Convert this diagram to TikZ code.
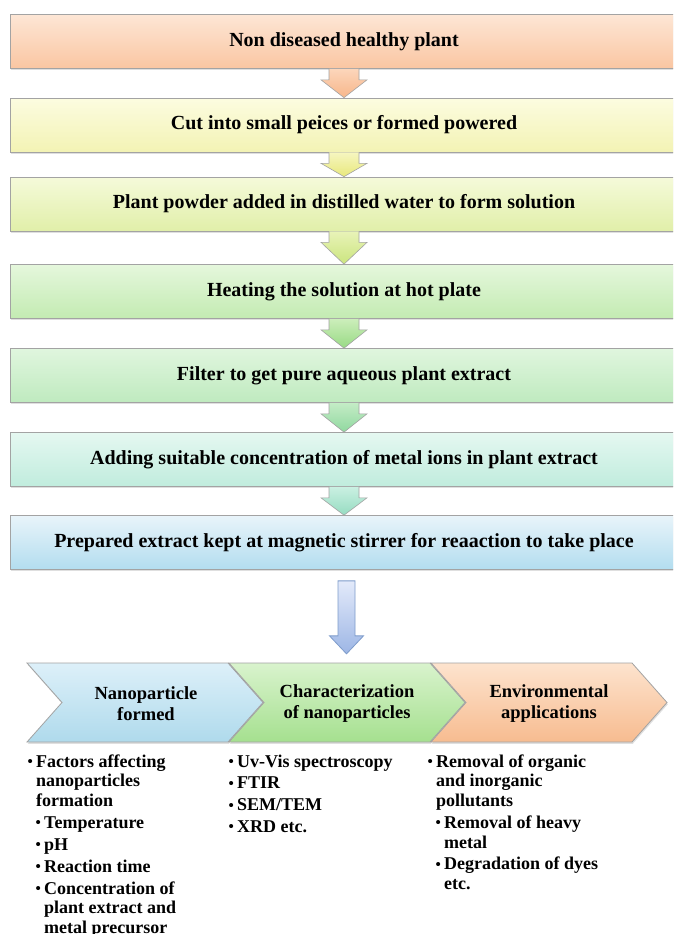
\documentclass[tikz,border=0pt]{standalone}
\usepackage{fontspec}
\setmainfont{Liberation Serif}
\usetikzlibrary{calc,shadows}
\definecolor{bordergray}{HTML}{A3A3A3}
\definecolor{arrowblue}{HTML}{7E9CCB}
\definecolor{b1t}{HTML}{FDE6D5}\definecolor{b1b}{HTML}{FAC6A2}
\definecolor{b2t}{HTML}{FCFCE0}\definecolor{b2b}{HTML}{F3F3B4}
\definecolor{b3t}{HTML}{F5FADA}\definecolor{b3b}{HTML}{E1EFA9}
\definecolor{b4t}{HTML}{E5F7DC}\definecolor{b4b}{HTML}{C3EBB2}
\definecolor{b5t}{HTML}{E0F6DE}\definecolor{b5b}{HTML}{BFEABF}
\definecolor{b6t}{HTML}{E5F8F1}\definecolor{b6b}{HTML}{C0ECDD}
\definecolor{b7t}{HTML}{E8F4FA}\definecolor{b7b}{HTML}{B3DDEF}
\definecolor{a1t}{HTML}{FCD6BB}\definecolor{a1b}{HTML}{F7B68A}
\definecolor{a2t}{HTML}{F6F6C0}\definecolor{a2b}{HTML}{E8E87C}
\definecolor{a3t}{HTML}{E8F3B8}\definecolor{a3b}{HTML}{CBE57E}
\definecolor{a4t}{HTML}{CCEEBB}\definecolor{a4b}{HTML}{98DA84}
\definecolor{a5t}{HTML}{C4ECC6}\definecolor{a5b}{HTML}{90D89F}
\definecolor{a6t}{HTML}{CAF0E2}\definecolor{a6b}{HTML}{96DCC1}
\definecolor{bat}{HTML}{E3EAFA}\definecolor{bab}{HTML}{9DB6E5}
\definecolor{c1t}{HTML}{DDF0F9}\definecolor{c1b}{HTML}{AFDAEC}
\definecolor{c2t}{HTML}{D9F3CD}\definecolor{c2b}{HTML}{A5E08F}
\definecolor{c3t}{HTML}{FDE3CE}\definecolor{c3b}{HTML}{F7BC90}
\newcommand{\boxfont}{\fontsize{20}{24}\selectfont\bfseries}
\newcommand{\chevfont}{\fontsize{18.5}{21}\selectfont\bfseries}
\newcommand{\listfont}{\fontsize{18}{19.7}\selectfont\bfseries}
\newcommand{\bitem}[2]{\par\hangindent=\dimexpr#1+8pt\relax\hangafter=1\noindent\hspace*{#1}\makebox[8pt][l]{\hspace*{-0.5pt}\fontsize{15}{15}\selectfont\raisebox{0.05em}{•}}#2\par}
\tikzset{
  stepbox/.style={draw=bordergray, line width=0.7pt, minimum width=668, minimum height=54,
     inner sep=0pt, font=\boxfont, drop shadow={opacity=0.25, shadow xshift=0.8pt, shadow yshift=-1.8pt}},
  flowarrow/.style={draw=bordergray, line width=0.6pt, line join=miter},
  chev/.style={draw=bordergray, line width=0.8pt, line join=miter,
     drop shadow={opacity=0.25, shadow xshift=0.8pt, shadow yshift=-1.8pt}},
  chevtext/.style={font=\chevfont, align=center, inner sep=0pt},
  listnode/.style={anchor=base west, inner sep=0pt, font=\listfont}
}
\begin{document}
\begin{tikzpicture}[x=1pt,y=-1pt]
\useasboundingbox (0,0) rectangle (673,934);
\clip (0,0) rectangle (673,934);
\fill[white] (0,0) rectangle (673,934);

% steps
\node[stepbox, top color=b1t, bottom color=b1b] (b1) at (344,41.5) {Non diseased healthy plant};
\node[stepbox, top color=b2t, bottom color=b2b] (b2) at (344,125) {Cut into small peices or formed powered};
\node[stepbox, top color=b3t, bottom color=b3b] (b3) at (344,204) {Plant powder added in distilled water to form solution};
\node[stepbox, top color=b4t, bottom color=b4b] (b4) at (344,291.5) {Heating the solution at hot plate};
\node[stepbox, top color=b5t, bottom color=b5b] (b5) at (344,375.5) {Filter to get pure aqueous plant extract};
\node[stepbox, top color=b6t, bottom color=b6b] (b6) at (344,459.5) {Adding suitable concentration of metal ions in plant extract};
\node[stepbox, top color=b7t, bottom color=b7b] (b7) at (344,542.5) {Prepared extract kept at magnetic stirrer for reaaction to take place};

% arrows between steps
\foreach \a/\b/\n in {b1/b2/1, b2/b3/2, b3/b4/3, b4/b5/4, b5/b6/5, b6/b7/6}{
  \draw[flowarrow, top color=a\n t, bottom color=a\n b]
    ($(\a.south)+(-15,0)$) -- ($(\a.south)+(-15,11)$) -- ($(\a.south)+(-23,11)$) -- (\b.north)
    -- ($(\a.south)+(23,11)$) -- ($(\a.south)+(15,11)$) -- ($(\a.south)+(15,0)$);
}

% big arrow
\draw[draw=arrowblue, line width=0.8pt, line join=miter, top color=bat, bottom color=bab]
  ($(b7.south)+(-6,11)$) -- ($(b7.south)+(-6,66)$) -- ($(b7.south)+(-14.5,66)$) -- ($(b7.south)+(2.5,84)$)
  -- ($(b7.south)+(19.5,66)$) -- ($(b7.south)+(11,66)$) -- ($(b7.south)+(11,11)$) -- cycle;

% chevrons
\draw[chev, top color=c1t, bottom color=c1b]
  (27,663) -- (228,663) -- (263,702.5) -- (228,742) -- (27,742) -- (62,702.5) -- cycle;
\draw[chev, top color=c2t, bottom color=c2b]
  (229,663) -- (430,663) -- (465,702.5) -- (430,742) -- (229,742) -- (264,702.5) -- cycle;
\draw[chev, top color=c3t, bottom color=c3b]
  (431,663) -- (632,663) -- (667,702.5) -- (632,742) -- (431,742) -- (466,702.5) -- cycle;
\node[chevtext] (c1) at (146,704) {Nanoparticle\\formed};
\node[chevtext] (c2) at (347,704) {Characterization\\of nanoparticles};
\node[chevtext] (c3) at (549,704) {Environmental\\applications};

% lists
\node[listnode] (l1) at (28,767) {\begin{minipage}[t]{200pt}\setlength{\parskip}{2.2pt}\raggedright
\bitem{0pt}{Factors affecting\newline nanoparticles\newline formation}
\bitem{8pt}{Temperature}
\bitem{8pt}{pH}
\bitem{8pt}{Reaction time}
\bitem{8pt}{Concentration of\newline plant extract and\newline metal precursor}
\end{minipage}};
\node[listnode] (l2) at (229,767) {\begin{minipage}[t]{200pt}\setlength{\parskip}{2.2pt}\raggedright
\bitem{0pt}{Uv-Vis spectroscopy}
\bitem{0pt}{FTIR}
\bitem{0pt}{SEM/TEM}
\bitem{0pt}{XRD etc.}
\end{minipage}};
\node[listnode] (l3) at (428,767) {\begin{minipage}[t]{240pt}\setlength{\parskip}{2.2pt}\raggedright
\bitem{0pt}{Removal of organic\newline and inorganic\newline pollutants}
\bitem{8pt}{Removal of heavy\newline metal}
\bitem{8pt}{Degradation of dyes\newline etc.}
\end{minipage}};
\end{tikzpicture}
\end{document}
